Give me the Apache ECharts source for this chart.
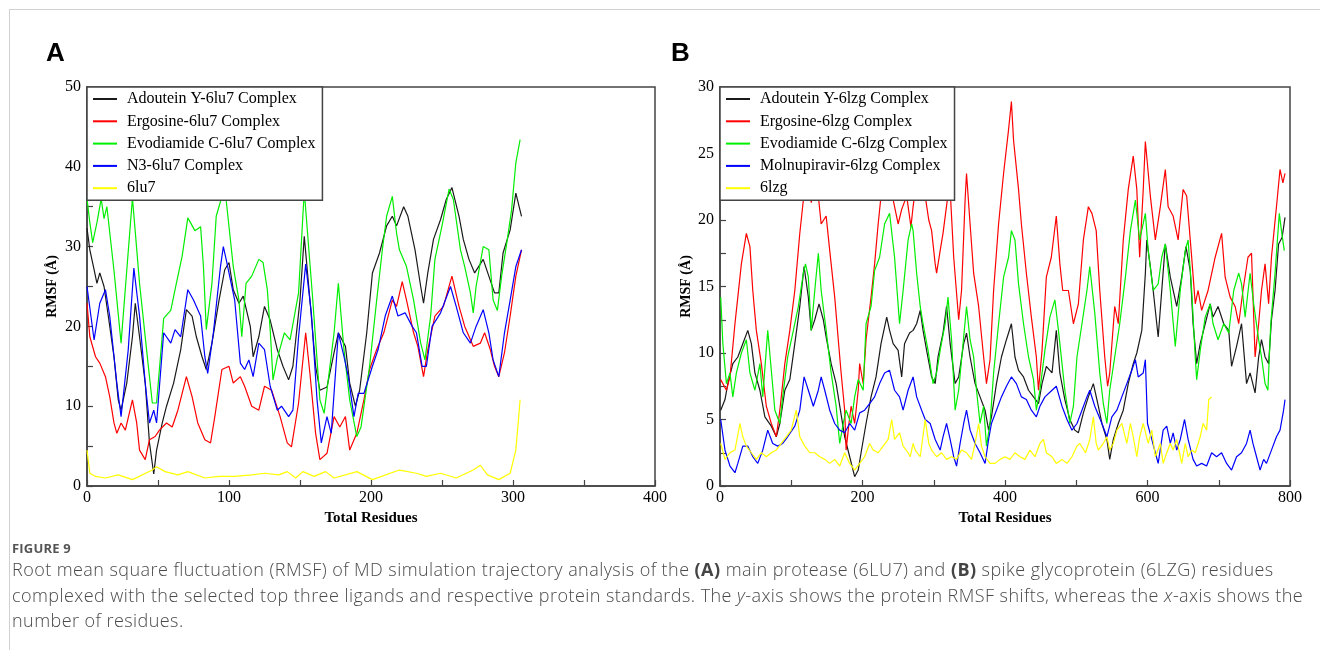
<!DOCTYPE html>
<html>
<head>
<meta charset="utf-8">
<script src="https://cdn.jsdelivr.net/npm/echarts@6/dist/echarts.min.js"></script>
<style>
html,body{margin:0;padding:0;background:#fff;}
#wrap{position:relative;width:1320px;height:650px;overflow:hidden;background:#fff;}
#frame{position:absolute;left:9px;top:9px;width:1320px;height:660px;border-left:1px solid #d0d0d0;border-top:1px solid #d0d0d0;}
#main{position:absolute;left:0;top:0;width:1320px;height:650px;}
#fig{position:absolute;left:12px;top:539px;font-family:"Open Sans","Noto Sans",sans-serif;font-size:13px;font-weight:700;color:#555;letter-spacing:0.2px;}
#cap{position:absolute;left:12px;top:557px;width:1300px;font-family:"Open Sans","Noto Sans",sans-serif;font-size:18px;font-weight:300;letter-spacing:0.44px;line-height:25.5px;color:#4a4a4a;white-space:nowrap;}
#cap b{color:#444;font-weight:700;}
</style>
</head>
<body>
<div id="wrap">
<div id="frame"></div>
<div id="main"></div>
<div id="fig">FIGURE 9</div>
<div id="cap">Root mean square fluctuation (RMSF) of MD simulation trajectory analysis of the <b>(A)</b> main protease (6LU7) and <b>(B)</b> spike glycoprotein (6LZG) residues<br>complexed with the selected top three ligands and respective protein standards. The <i>y</i>-axis shows the protein RMSF shifts, whereas the <i>x</i>-axis shows the<br>number of residues.</div>
</div>
<script>
// ---------- Panel A (6lu7) ----------
const aNames = ['Adoutein Y-6lu7 Complex','Ergosine-6lu7 Complex','Evodiamide C-6lu7 Complex','N3-6lu7 Complex','6lu7'];
const aXTicks = [0,100,200,300,400];
const aYTicks = [0,10,20,30,40,50];

const aBlackX = [0,2,5,7,9,12,15,19,22,24,28,32,34,37,41,44,47,49,53,56,61,66,70,74,77,81,84,88,93,97,100,103,107,110,115,117,121,125,129,134,138,142,145,150,153,157,161,164,169,174,177,182,185,189,192,197,201,206,211,215,218,223,226,231,235,237,240,244,249,253,257,262,265,269,273,279,283,287,290,293,298,302,306];
const aBlackY = [32.3,29.6,27.1,25.4,26.7,25,21.3,16.2,10.8,9.5,12.9,18.7,22.9,18.7,12.9,5.4,1.5,4.5,7.9,10,12.9,17.1,22.1,21.3,18.7,16.2,14.6,17.9,23.3,27.1,28,24.6,22.9,23.8,20,16.2,18.7,22.5,20.8,17.1,15,13.3,15,23.3,31.3,23.3,15,12,12.4,16.7,19.2,17.5,12.9,10,12,19.2,26.7,29.2,32.6,33.8,32.6,35,33.8,29.6,25,22.9,26.7,30.9,33.4,35.9,37.4,33.8,30.9,28.4,26.7,28.4,26.3,24.2,24.2,29.2,32.1,36.7,33.8];

const aRedX = [0,2,6,9,13,16,19,21,24,27,32,35,37,41,44,48,51,56,60,64,70,74,78,83,87,90,95,100,103,108,111,116,121,125,130,136,141,144,149,154,157,161,164,169,174,178,182,185,190,195,199,204,209,215,218,222,225,230,233,237,240,245,251,257,262,266,272,277,280,284,287,290,294,298,302,306];
const aRedY = [22.9,18.7,16.2,15.4,13.7,11.2,7.9,6.6,7.9,7,10.8,7.9,4.5,3.3,5.8,6.2,7,7.9,7.4,9.5,13.7,11.2,7.9,5.8,5.4,8.7,14.6,15,12.9,13.7,12.5,10,9.5,12.5,12,8.7,5.4,4.9,10.4,19.2,14.1,6.6,3.3,4.1,8.7,7.4,8.7,4.5,6.6,10.8,14.6,17.1,19.2,23.3,22.5,25.6,23.3,19.2,17.5,13.7,17.1,21.3,22.5,26.3,22.5,20,17.5,17.9,19.2,17.1,15,13.7,16.7,21.3,26.3,29.6];

const aGreenX = [0,2,4,7,10,12,14,19,24,28,32,37,42,46,49,54,59,62,67,71,76,80,82,84,88,91,97,103,107,109,112,116,121,124,127,129,131,134,139,143,149,153,159,164,167,174,177,181,185,190,193,199,204,208,211,215,218,220,225,230,235,238,242,245,250,255,258,263,266,270,272,274,279,283,286,289,292,296,299,302,305];
const aGreenY = [36,33,30.5,33,36,33.5,35,27,17.9,27,36.1,25.4,17,10.4,10.4,21,22,24.6,28.8,33.6,32,32.5,27.5,19.6,25.4,33.8,37.5,27.5,23.3,18.7,25.4,26.3,28.4,28,24.6,19.6,13.3,16,19.2,18.3,24.2,37,23.3,10.8,9.1,19.2,25.4,17,10.8,6.2,7.4,15,23.3,29.6,33.8,36.3,31.7,29.6,27.5,23.3,17.9,15.8,21.3,28.4,32.6,37.2,35.9,29.6,27.5,24.2,21.7,25,30,29.6,23.3,22,26.3,30.9,34.6,40.5,43.4];

const aBlueX = [0,5,9,13,16,21,24,29,33,37,41,44,47,49,54,59,62,66,71,75,80,83,85,89,94,96,98,104,108,111,114,117,121,125,129,134,137,142,145,149,154,158,162,165,169,172,177,181,184,188,191,195,201,205,210,215,219,224,229,232,236,239,243,249,256,260,265,270,274,279,283,286,290,294,298,302,306];
const aBlueY = [25,18.3,22.9,24.6,21.3,12.9,8.7,17,27.3,21.3,12.9,7.9,9.5,7.9,19.2,17.9,19.6,18.7,24.6,23.3,21.3,16.2,14.1,19.2,27.5,30,28.4,23.3,15.4,14.6,15.8,13.7,17.9,17.1,12.5,9.5,10,8.7,9.5,18.7,27.8,21.7,10.8,5.4,8.7,6.6,19.2,16.2,13.7,8.7,11.6,11.6,15,17.1,21.3,23.8,21.3,21.7,20,19.2,15,15,20,21.7,25,22.5,19.2,17.9,20,22.1,19.2,15.8,13.7,19.2,23.3,27.5,29.6];

const aYellowX = [0,2,6,13,22,32,46,49,55,64,71,83,93,104,116,125,135,141,147,152,160,168,174,190,201,220,232,239,249,260,272,277,282,290,298,302,305];
const aYellowY = [4.5,1.6,1.2,1,1.4,0.8,2,2.4,1.8,1.4,1.8,1,1.2,1.2,1.4,1.6,1.4,1.8,1,1.8,1.2,1.8,1,1.8,0.8,2,1.6,1.2,1.6,1,2,2.6,1.4,0.8,1.6,4.5,10.8];

// ---------- Panel B (6lzg) ----------
const bNames = ['Adoutein Y-6lzg Complex','Ergosine-6lzg Complex','Evodiamide C-6lzg Complex','Molnupiravir-6lzg Complex','6lzg'];
const bXTicks = [0,200,400,600,800];
const bYTicks = [0,5,10,15,20,25,30];

const bBlackX = [1,7,11,18,25,32,39,44,49,56,63,72,79,84,91,98,105,112,118,124,128,133,139,145,149,156,163,169,175,182,189,194,198,205,212,219,226,234,238,243,250,255,259,266,271,276,281,285,290,297,302,306,313,318,323,330,335,342,346,351,358,365,372,377,381,388,395,402,409,414,419,426,433,440,447,452,458,466,472,477,484,491,498,503,510,517,524,531,536,543,547,552,559,566,573,580,585,592,597,599,604,608,615,620,625,632,641,648,654,660,664,669,674,681,688,692,699,707,714,718,725,732,739,744,751,756,760,765,770,774,779,784,789,793];
const bBlackY = [5.7,6.5,7.7,9.2,9.7,10.7,11.7,10.7,8.5,7.2,5.2,4.5,3.7,4.7,7.2,8,10.7,13.5,16.5,14.2,11.7,12.5,13.7,12.5,11.2,9.2,7.7,5.7,3.7,2.2,0.7,1.2,2.5,4.7,6.7,8.2,10.7,12.7,11.7,10.7,10.2,8.2,10.7,11.5,11.7,12.2,13.2,11.7,10.2,8.2,7.7,9.7,11.5,13.5,10.7,7.7,8.2,10.7,11.5,9.7,7.7,6.7,5.7,4.2,5.2,7.7,9.7,11,12.2,9.7,8.7,8.2,7.2,6.7,6.2,7.7,9,8.5,11.7,8.5,6.5,5,4.2,4,5.5,6.7,7.7,6,4.7,3.5,2,3.5,4.7,5.7,7.7,9.2,10,11.7,16,18.5,16.5,14.7,11.2,14.7,18.2,15.7,13.5,15.7,18,16.2,12.2,9.2,10.7,12.2,13.7,12.7,13.5,12.2,11.7,9,10.5,12.2,7.7,8.5,7,9.7,11,9.7,9.2,12.5,14.7,18.2,18.7,20.2];

const bRedX = [1,9,14,21,25,30,37,42,46,51,58,65,72,79,84,91,98,105,112,117,121,125,128,133,138,142,149,154,161,166,170,175,177,181,184,189,194,196,201,205,212,217,222,226,232,240,250,255,262,268,271,276,282,288,293,297,302,304,309,313,319,323,328,335,339,344,346,351,356,363,370,374,379,384,391,398,405,409,412,419,423,430,437,444,447,452,458,465,472,477,481,489,496,503,510,517,522,528,533,540,544,547,554,559,566,573,580,585,589,594,597,604,611,618,625,629,636,643,650,655,662,667,671,676,685,695,704,709,716,723,728,734,741,746,751,756,760,765,770,774,781,786,790,793];
const bRedY = [8,7.2,8.2,12.2,14.2,16.7,19,18,14.7,11.7,9.2,6,4.7,3.7,5.7,9.2,11.7,14.7,19,21.5,23,23.5,21.3,22.5,21.8,19.7,20.3,17.7,14.2,11,8.5,5.7,2.7,4.7,6,4.7,7.2,9.2,7.7,11,14.2,16.7,19.7,21.8,23.5,22.3,19.7,20.8,21.8,19.5,21,23,23.5,21.8,20,19.2,16.7,16,17.7,19,21.5,22.3,17.2,12.5,14.7,21.5,23.5,19.7,16,13.5,9.7,7.7,9.5,14.7,19.7,23.5,26.8,28.9,26,22.3,19.7,16,12.7,9.7,7.2,10.2,15.7,17.2,20.3,16.7,14.7,14.7,12.2,13.7,18.5,21,20.5,19.2,14.7,9.7,7.5,8.5,13.5,12.2,18.5,22.3,24.8,22.3,17.2,22.3,25.9,21.8,18.5,21,23.8,21,20.3,18.5,22.3,21.8,17.2,13.7,14.7,13.2,14.7,17.2,19,15.7,14.2,13.5,12.2,14.7,17.2,17.5,9.7,12.2,14.7,16.7,13.7,17.2,21,23.8,22.8,23.5];

const bGreenX = [1,4,9,14,18,23,30,37,42,49,56,60,67,72,77,84,88,95,103,110,117,120,124,128,133,138,142,149,156,163,168,173,177,184,189,194,201,205,212,217,224,231,238,245,252,257,264,269,271,276,281,285,292,299,304,309,316,320,325,330,335,342,346,351,356,360,365,370,374,379,384,391,398,405,409,414,419,426,433,440,444,449,456,463,470,475,480,484,491,496,501,508,515,519,526,533,538,543,547,554,561,569,576,583,589,597,601,608,615,620,625,632,639,646,653,657,662,667,669,674,681,688,692,699,707,714,721,728,732,737,744,749,756,760,765,769,773,779,785,788,792];
const bGreenY = [14.2,10.7,7.7,8.5,6.7,8.5,10,11,8.5,7.2,9.2,6.7,11.7,8.7,5.7,4.7,6.7,9.7,11.7,13.5,16,16.7,15.7,11.7,14.7,17.5,14.7,11.7,8.5,6,3.2,4.7,5.7,4.7,6.7,8,7.2,12.2,13.5,16.2,17.2,19.7,20.5,17.2,12.2,14.7,18.5,19.7,19.2,16,13.5,12.2,10.2,7.7,8.5,10.2,12.2,14.2,11,5.7,7.2,11.2,13.5,11,9.7,7.2,4.7,6,3,4.7,8.5,12.2,15.7,17.2,19.2,18.5,15.2,12.2,9.7,8,5.7,7.2,10.2,12.7,14,11.7,9.2,7.2,4.7,6,9.7,12.2,14.7,16.5,13,8.5,6.2,4.7,7.2,9.7,12.2,15.7,19.2,21.5,18.5,20.5,17.7,14.7,15.2,17.2,18.2,14.7,10.5,14.7,17.7,18.5,14.7,9.7,8,10.2,12.7,13.7,12.2,11,12.2,11.5,14.7,16,15.2,12.7,16,13.7,11,9.7,7.7,7.2,12.2,16,20.5,19.2,17.7];

const bBlueX = [1,7,14,21,25,32,39,46,53,60,67,74,81,88,95,105,112,118,124,131,138,142,147,154,161,168,175,182,189,196,203,210,217,224,231,238,245,252,257,264,271,276,283,288,295,302,309,313,318,323,328,332,337,342,346,351,358,365,372,377,381,388,395,402,409,416,423,430,437,444,449,456,466,472,480,487,494,501,508,515,519,526,536,543,550,557,564,571,578,583,587,594,597,600,606,611,615,622,627,632,636,641,646,652,657,664,669,676,683,690,697,704,711,718,725,732,739,744,748,753,758,763,767,774,781,786,791,793];
const bBlueY = [5,2.7,1.5,1,1.7,3,3,2.2,1.7,2.7,4.2,3.2,3,3.2,3.7,4.5,5.7,8.2,7.2,6,7.2,8.2,7.2,5.7,4.7,4.2,4,4.7,4.2,5.5,5.7,6.2,6.7,7.7,8.5,8.7,7.2,6.7,5.7,7.2,8.2,6.7,5.7,5,4.7,3.5,2.7,3.7,4.7,3.5,2.2,1.5,3.2,4.7,5.7,4.2,3.2,2.5,1.7,3.5,4.7,5.7,6.7,7.5,8.2,7.7,6.7,6.5,5.7,5.2,6,6.7,7.2,7.5,6,5,4.2,4.7,5.7,6.7,7.2,6,4.7,3.7,5.2,5.7,6.7,7.7,8.7,9.5,8.2,8.5,9.5,4.7,3.5,2.5,1.7,4.2,4.5,3.2,4,2.7,3.5,5,3.5,2,1.5,1.7,1.5,2.5,2.2,2.5,1.7,1.2,2.2,2.5,3.2,4.2,3.2,2.2,1.2,2,1.7,2.7,3.7,4.2,5.7,6.5];

const bYellowX = [1,7,14,21,28,32,37,44,51,58,65,72,79,86,93,100,107,112,119,126,133,140,147,154,161,168,175,182,189,196,203,210,215,222,229,236,241,245,252,257,264,267,271,274,281,288,293,297,304,311,318,325,332,339,346,353,358,363,367,372,379,386,393,400,407,414,421,428,435,442,449,454,458,466,472,480,487,494,501,505,513,519,524,528,531,538,543,547,552,557,564,571,576,580,585,589,594,601,606,611,618,622,627,632,636,641,648,653,657,662,667,674,678,683,686,690];
const bYellowY = [3.2,2,2.5,2.7,4.7,3.7,3,2.5,2,2.5,2.2,2.5,2.7,3.2,3.7,4.2,5.7,3.7,3,2.5,2.5,2.2,2,1.7,2,1.5,2.5,1.7,1.2,1.7,2.2,3.2,2.7,2.5,3,3.5,5,3.5,4,3,2.5,2.2,3.2,2.7,2.2,5,3.2,2.7,2.2,2.5,2,2.2,2,2.7,2.5,2,3.2,4.7,3,2.2,1.7,1.7,2,2.2,2,2.5,2.2,2,2.7,2.2,3.2,3.5,2.5,2.2,1.7,2,1.7,2.2,3,3.2,2.5,3.5,5.2,3.2,2.7,3.2,3.7,2.7,3.2,4.2,4.7,3.2,4.7,3.7,2.2,3.7,4.7,3.2,4.2,2.2,3.2,1.7,2.5,3.2,2.7,3.5,1.7,3.2,2.2,2.7,2.5,3.7,4.7,4.2,6.5,6.7];

const colors = ['#1a1a1a','#ff0000','#00ee00','#0000ff','#ffff00'];

function zip(xs, ys){ return xs.map((x,i)=>[x, ys[i]]); }

const aData = [zip(aBlackX,aBlackY), zip(aRedX,aRedY), zip(aGreenX,aGreenY), zip(aBlueX,aBlueY), zip(aYellowX,aYellowY)];
const bData = [zip(bBlackX,bBlackY), zip(bRedX,bRedY), zip(bGreenX,bGreenY), zip(bBlueX,bBlueY), zip(bYellowX,bYellowY)];

const serif = 'Liberation Serif';
const axisCol = '#444';

function xAxisCfg(gi, ticks){
  const step = ticks[1]-ticks[0];
  return {
    type:'value', gridIndex:gi, min:ticks[0], max:ticks[ticks.length-1], interval:step,
    name:'Total Residues', nameLocation:'middle', nameGap:19,
    nameTextStyle:{fontFamily:serif,fontSize:15,fontWeight:'bold',color:'#000'},
    axisLine:{show:true,lineStyle:{color:axisCol,width:1.5}},
    axisTick:{show:true,inside:true,length:6,lineStyle:{color:axisCol,width:1.2}},
    minorTick:{show:true,splitNumber:2,length:6,lineStyle:{color:axisCol,width:1.2}},
    axisLabel:{fontFamily:serif,fontSize:16,color:'#000',margin:4},
    splitLine:{show:false}
  };
}
function yAxisCfg(gi, ticks, gap){
  const step = ticks[1]-ticks[0];
  return {
    type:'value', gridIndex:gi, min:ticks[0], max:ticks[ticks.length-1], interval:step,
    name:'RMSF (Å)', nameLocation:'middle', nameGap:gap, nameRotate:90,
    nameTextStyle:{fontFamily:serif,fontSize:14,fontWeight:'bold',color:'#000'},
    axisLine:{show:true,lineStyle:{color:axisCol,width:1.5}},
    axisTick:{show:true,inside:true,length:6,lineStyle:{color:axisCol,width:1.2}},
    minorTick:{show:true,splitNumber:2,length:6,lineStyle:{color:axisCol,width:1.2}},
    axisLabel:{fontFamily:serif,fontSize:16,color:'#000',margin:6},
    splitLine:{show:false}
  };
}
function legendCfg(names, left){
  return {
    data:names, orient:'vertical', left:left, top:87,
    backgroundColor:'#fff', borderColor:axisCol, borderWidth:1.5,
    padding:[4,7,4,5], itemWidth:24, itemHeight:14, itemGap:6.3,
    itemStyle:{opacity:0, borderWidth:0},
    textStyle:{fontFamily:serif,fontSize:16,color:'#000',lineHeight:14,padding:[0,0,0,5]},
    z:10
  };
}
const series = [];
aNames.forEach((n,i)=>series.push({name:n,type:'line',xAxisIndex:0,yAxisIndex:0,data:aData[i],
  showSymbol:false,symbol:'none',lineStyle:{color:colors[i],width:1.2},itemStyle:{color:colors[i]},animation:false}));
bNames.forEach((n,i)=>series.push({name:n,type:'line',xAxisIndex:1,yAxisIndex:1,data:bData[i],
  showSymbol:false,symbol:'none',lineStyle:{color:colors[i],width:1.2},itemStyle:{color:colors[i]},animation:false}));

const chart = echarts.init(document.getElementById('main'), null, {renderer:'canvas'});
chart.setOption({
  backgroundColor:'transparent',
  animation:false,
  grid:[
    {left:87,top:87,width:568,height:399,show:true,borderColor:axisCol,borderWidth:1.5,backgroundColor:'transparent'},
    {left:720,top:87,width:570,height:399,show:true,borderColor:axisCol,borderWidth:1.5,backgroundColor:'transparent'}
  ],
  xAxis:[xAxisCfg(0,aXTicks), xAxisCfg(1,bXTicks)],
  yAxis:[yAxisCfg(0,aYTicks,28), yAxisCfg(1,bYTicks,27)],
  legend:[legendCfg(aNames,87), legendCfg(bNames,720)],
  graphic:[
    {type:'text',left:46,top:41,style:{text:'A',fontFamily:'Liberation Sans',fontWeight:'bold',fontSize:26,fill:'#000'}},
    {type:'text',left:671,top:41,style:{text:'B',fontFamily:'Liberation Sans',fontWeight:'bold',fontSize:26,fill:'#000'}}
  ],
  series:series
});
</script>
</body>
</html>
